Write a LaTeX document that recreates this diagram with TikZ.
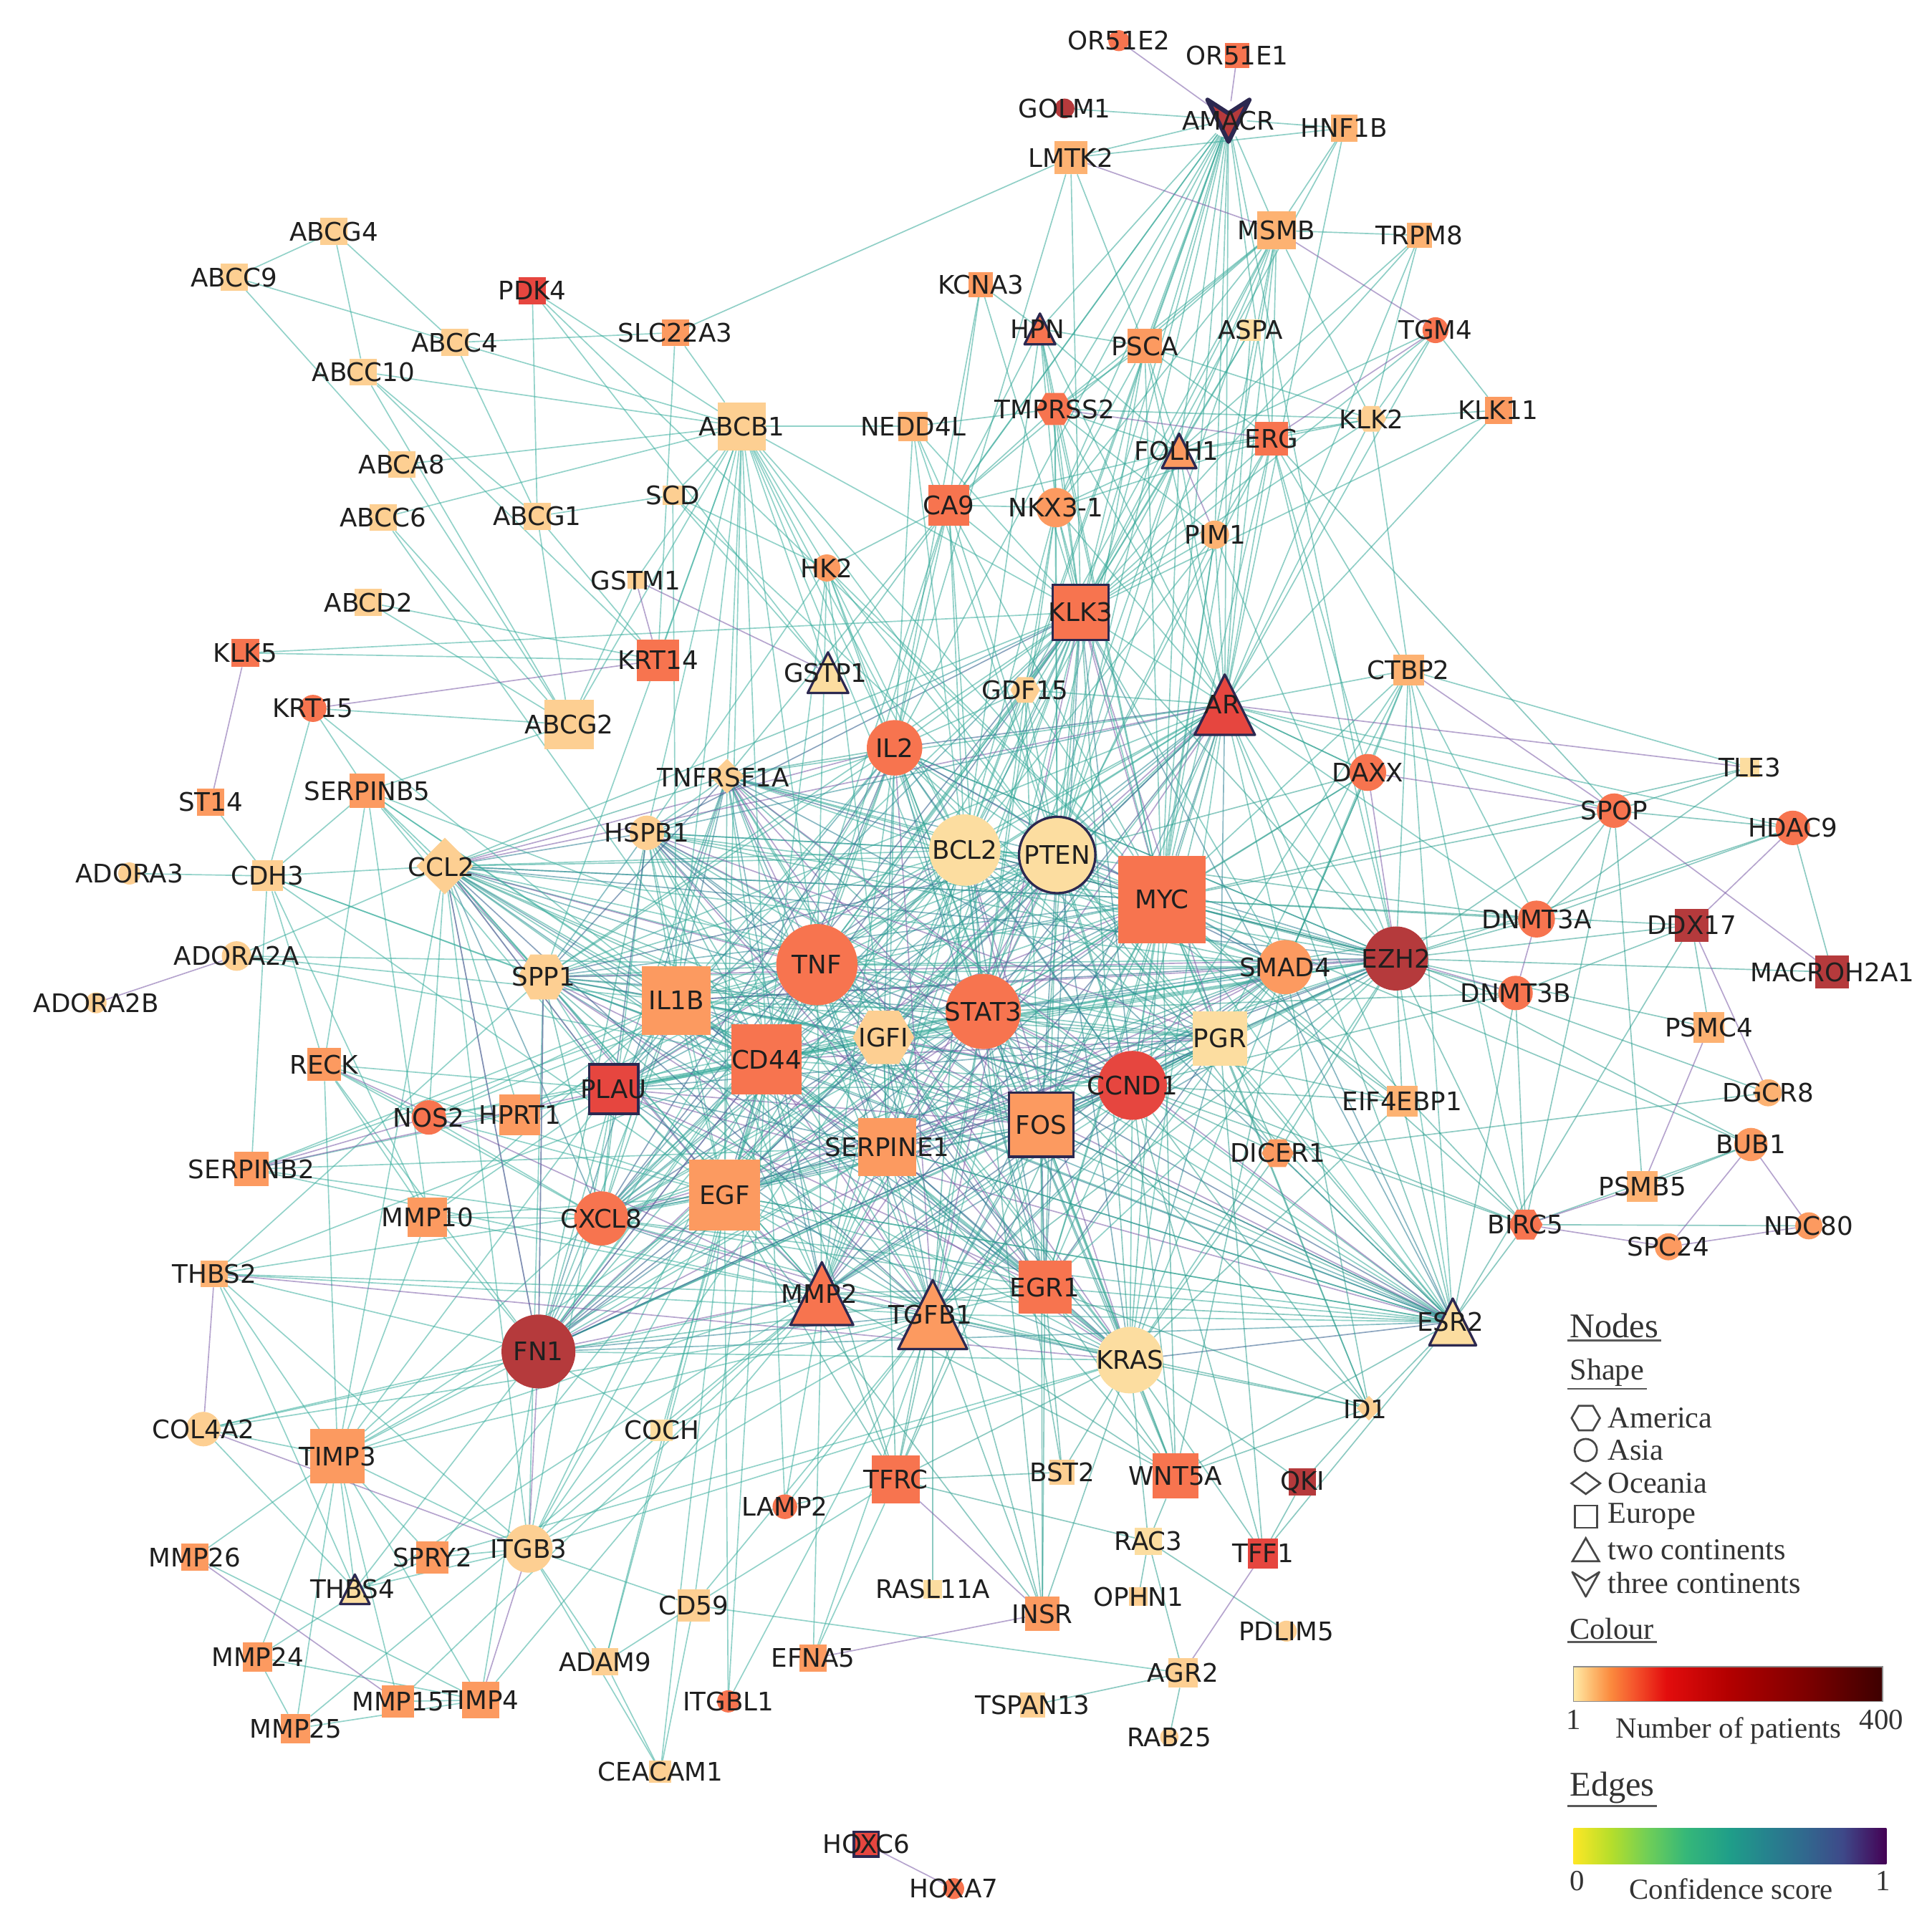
\documentclass[tikz,border=0pt]{standalone}
\usepackage{fontspec}
\usetikzlibrary{shapes.geometric, positioning}
\newfontfamily\genefont{DejaVu Sans}
\newfontfamily\legfont{Liberation Serif}

% node colours (number of patients)
\definecolor{c0}{HTML}{FCDDA0}
\definecolor{c1}{HTML}{FDCF92}
\definecolor{c2}{HTML}{FDB272}
\definecolor{c3}{HTML}{FC9A60}
\definecolor{c4}{HTML}{F7744F}
\definecolor{c5}{HTML}{E6463F}
\definecolor{c6}{HTML}{B53A3C}
\definecolor{rim}{HTML}{2C2850}
% edge colours (confidence)
\definecolor{ed0}{HTML}{34A898}
\definecolor{ed1}{HTML}{34A898}
\definecolor{ed2}{HTML}{3AAE9E}
\definecolor{ed3}{HTML}{34A898}
\definecolor{ed4}{HTML}{2FA090}
\definecolor{ed5}{HTML}{2A8C96}
\definecolor{ed6}{HTML}{2A7E92}
\definecolor{ed7}{HTML}{2D5A8A}
\definecolor{ed8}{HTML}{7A5AA6}
% colour bars
\definecolor{p0}{HTML}{FFEBA8}
\definecolor{p1}{HTML}{FDBA6E}
\definecolor{p2}{HTML}{FB8A3E}
\definecolor{p3}{HTML}{F4522B}
\definecolor{p4}{HTML}{E30D0D}
\definecolor{p5}{HTML}{B30000}
\definecolor{p6}{HTML}{800000}
\definecolor{p7}{HTML}{3D0000}
\definecolor{v0}{HTML}{FDE725}
\definecolor{v1}{HTML}{B5DE2B}
\definecolor{v2}{HTML}{6ECE58}
\definecolor{v3}{HTML}{35B779}
\definecolor{v4}{HTML}{1F9E89}
\definecolor{v5}{HTML}{26828E}
\definecolor{v6}{HTML}{31688E}
\definecolor{v7}{HTML}{3E4989}
\definecolor{v8}{HTML}{440154}

\pgfdeclarehorizontalshading{patients}{100bp}{color(0bp)=(p0); color(25bp)=(p0);
  color(28bp)=(p1); color(31bp)=(p2); color(35bp)=(p3); color(40bp)=(p4);
  color(50bp)=(p5); color(62bp)=(p6); color(75bp)=(p7); color(100bp)=(p7)}
\pgfdeclarehorizontalshading{confidence}{100bp}{color(0bp)=(v0); color(25bp)=(v0);
  color(31bp)=(v1); color(37bp)=(v2); color(43bp)=(v3); color(50bp)=(v4);
  color(56bp)=(v5); color(62bp)=(v6); color(68bp)=(v7); color(75bp)=(v8); color(100bp)=(v8)}

\pgfdeclarelayer{background}
\pgfdeclarelayer{labels}
\pgfsetlayers{background,main,labels}

\def\px{0.02cm}

% name/x/y/size/fill/outline
\def\asialist{OR51E2/908/33/17/c4/none, GOLM1/864/88/16/c6/none, TGM4/1165/268/21/c4/none,
  NKX3-1/857/412/32/c3/none, PIM1/986/434/23/c2/none, HK2/671/461/22/c3/none,
  KRT15/254/575/22/c4/none, IL2/726/607/45/c4/none, DAXX/1110/627/30/c4/none,
  HSPB1/525/676/28/c1/none, SPOP/1310/658/28/c4/none, HDAC9/1455/672/28/c4/none,
  BCL2/783/690/58/c0/none, PTEN/858/694/62/c0/rim, ADORA3/105/709/18/c1/none,
  DNMT3A/1247/746/30/c4/none, ADORA2A/192/776/24/c1/none, TNF/663/783/66/c4/none,
  SMAD4/1043/785/44/c3/none, EZH2/1133/778/52/c6/none, ADORA2B/78/814/17/c1/none,
  STAT3/798/821/61/c4/none, DNMT3B/1230/806/28/c4/none, CCND1/919/881/56/c5/none,
  NOS2/348/907/28/c4/none, DGCR8/1435/887/22/c2/none, BUB1/1421/929/27/c3/none,
  CXCL8/488/989/44/c4/none, NDC80/1468/995/22/c3/none, SPC24/1354/1012/22/c3/none,
  FN1/437/1097/60/c6/none, KRAS/917/1104/54/c0/none, COL4A2/165/1160/28/c1/none,
  LAMP2/637/1223/20/c4/none, ITGB3/429/1257/39/c1/none, PDLIM5/1044/1324/17/c1/none,
  ITGBL1/591/1381/18/c4/none, RAB25/949/1410/15/c1/none, HOXA7/774/1533/17/c4/none}
\def\europelist{OR51E1/1004/45/20/c4/none, HNF1B/1091/104/22/c2/none, LMTK2/869/128/27/c2/none,
  MSMB/1036/187/31/c2/none, TRPM8/1152/191/20/c2/none, KCNA3/796/231/20/c3/none,
  PSCA/929/281/28/c3/none, ASPA/1015/268/17/c0/none, KLK11/1216/333/22/c3/none,
  ERG/1032/356/27/c4/none, ABCG4/271/188/22/c1/none, ABCC9/190/225/22/c1/none,
  PDK4/432/236/22/c5/none, SLC22A3/548/270/22/c3/none, ABCC4/369/278/22/c1/none,
  ABCC10/295/302/22/c1/none, ABCB1/602/346/39/c1/none, NEDD4L/741/346/24/c2/none,
  ABCA8/326/377/22/c1/none, SCD/546/402/16/c1/none, CA9/770/410/33/c4/none,
  ABCC6/311/420/22/c1/none, ABCG1/436/419/22/c1/none, GSTM1/516/471/14/c1/none,
  ABCD2/299/489/22/c1/none, KLK3/877/497/45/c4/rim, KLK5/199/530/23/c4/none,
  KRT14/534/536/34/c4/none, CTBP2/1143/544/25/c2/none, ABCG2/462/588/40/c1/none,
  TLE3/1420/623/16/c0/none, ST14/171/651/22/c3/none, SERPINB5/298/642/28/c3/none,
  MYC/943/730/71/c4/none, CDH3/217/711/25/c1/none, DDX17/1373/751/27/c6/none,
  MACROH2A1/1487/789/27/c6/none, IL1B/549/812/56/c3/none, PSMC4/1387/834/25/c2/none,
  CD44/622/860/57/c4/none, PGR/990/843/44/c0/none, RECK/263/864/27/c3/none,
  PLAU/498/884/40/c5/rim, HPRT1/422/905/33/c3/none, EIF4EBP1/1138/894/25/c2/none,
  FOS/845/913/52/c3/rim, SERPINE1/720/931/47/c3/none, SERPINB2/204/949/28/c3/none,
  EGF/588/970/58/c3/none, PSMB5/1333/963/25/c2/none, MMP10/347/988/32/c3/none,
  THBS2/174/1034/22/c2/none, EGR1/848/1045/43/c4/none, COCH/537/1161/18/c0/none,
  TIMP3/274/1182/44/c3/none, BST2/862/1195/20/c1/none, WNT5A/954/1198/37/c4/none,
  QKI/1057/1203/22/c6/none, TFRC/727/1201/39/c4/none, RAC3/932/1251/22/c0/none,
  TFF1/1025/1261/24/c5/none, MMP26/158/1264/22/c3/none, SPRY2/351/1264/26/c3/none,
  CD59/563/1303/26/c1/none, RASL11A/757/1290/15/c0/none, OPHN1/924/1296/15/c1/none,
  INSR/846/1310/28/c3/none, MMP24/209/1345/24/c3/none, ADAM9/491/1349/22/c1/none,
  EFNA5/660/1346/22/c3/none, AGR2/960/1358/24/c1/none, MMP15/323/1381/26/c3/none,
  TIMP4/390/1380/30/c3/none, TSPAN13/838/1384/20/c1/none, MMP25/240/1403/24/c3/none,
  CEACAM1/536/1438/18/c1/none, HOXC6/703/1497/20/c5/rim}
\def\americalist{TMPRSS2/856/332/30/c4/none, KLK2/1113/340/24/c1/none, GDF15/832/560/24/c1/none,
  SPP1/441/793/42/c1/none, IGFI/717/842/50/c1/none, DICER1/1037/936/26/c3/none,
  BIRC5/1238/994/28/c4/none}
\def\oceanialist{CCL2/361/703/46/c1/none, TNFRSF1A/590/630/28/c1/none, ID1/1111/1143/20/c1/none}
% triangles: centre of the box, width = height
\def\twolist{HPN/844/267/25/c4/rim, FOLH1/957/366/28/c3/rim, GSTP1/672/546/33/c0/rim,
  AR/994/572/49/c5/rim, MMP2/667/1050/51/c4/rim, TGFB1/757/1067/56/c3/rim,
  ESR2/1179/1073/38/c0/rim, THBS4/288/1290/24/c0/rim}

\def\hubs{TNF,IL1B,STAT3,CD44,IGFI,BCL2,PTEN,MYC,CCND1,FOS,SERPINE1,EGF,CXCL8,PLAU,SPP1,
  MMP2,TGFB1,EGR1,KRAS,FN1,IL2,HSPB1,TNFRSF1A,SMAD4,CCL2,PGR,ESR2,EZH2,AR,KLK3}

\begin{document}
\begin{tikzpicture}[
    x=0.02cm, y=-0.02cm,
    mk/.style={inner sep=0pt, outer sep=0pt, line width=1.1pt},
    asia/.style={mk, circle},
    europe/.style={mk, rectangle},
    america/.style={mk, regular polygon, regular polygon sides=6},
    oceania/.style={mk, diamond},
    lbl/.style={inner sep=0pt, text=black!88, font={\genefont\fontsize{11.8}{13}\selectfont}},
    edge/.style={line width=0.55pt, opacity=0.55},
    legmark/.style={inner sep=0pt, draw=black!72, line width=0.9pt},
    leghead/.style={inner sep=1pt, anchor=west, text=black!80, font={\legfont\fontsize{16}{18}\selectfont}},
    legsub/.style={inner sep=1pt, anchor=west, text=black!80, font={\legfont\fontsize{14}{16}\selectfont}},
    legtxt/.style={inner sep=1pt, anchor=west, text=black!80, font={\legfont\fontsize{14}{16}\selectfont}},
    legnum/.style={inner sep=1pt, text=black!80, font={\legfont\fontsize{13.5}{15}\selectfont}},
    legline/.style={draw=black!65, line width=0.8pt},
]
\useasboundingbox (0,0) rectangle (1568,1563);

% markers
\foreach \g/\x/\y/\sz/\col/\ol in \asialist
  \node[asia, minimum size=\sz*\px, fill=\col, draw=\ol] (\g) at (\x,\y) {};
\foreach \g/\x/\y/\sz/\col/\ol in \europelist
  \node[europe, minimum size=\sz*\px, fill=\col, draw=\ol] (\g) at (\x,\y) {};
\foreach \g/\x/\y/\sz/\col/\ol in \americalist
  \node[america, minimum size=\sz*\px, fill=\col, draw=\ol] (\g) at (\x,\y) {};
\foreach \g/\x/\y/\sz/\col/\ol in \oceanialist
  \node[oceania, minimum size=\sz*\px, fill=\col, draw=\ol] (\g) at (\x,\y) {};
\foreach \g/\x/\y/\sz/\col/\ol in \twolist {
  \node[asia, minimum size=0.5*\sz*\px] (\g) at (\x,\y) {};
  \filldraw[fill=\col, draw=\ol, line width=1.1pt, line join=round]
    ({\x-\sz/2},{\y+\sz/2}) -- (\x,{\y-\sz/2}) -- ({\x+\sz/2},{\y+\sz/2}) -- cycle;
}

% three continents
\node[asia, minimum size=30*\px] (AMACR) at (997,97) {};
\filldraw[fill=c6, draw=rim, line width=2pt, line join=round]
    (980,81) -- (997,115) -- (1014,81) -- (997,92) -- cycle;

% edges
\begin{pgfonlayer}{background}
\fill[white] (0,0) rectangle (1568,1563);

% dense core
\foreach \p [count=\i] in \hubs {
  \foreach \q [count=\j] in \hubs {
    \ifnum\j>\i
      \pgfmathtruncatemacro\k{mod(\i*7+\j*11,9)}
      \draw[edge, draw=ed\k] (\p) -- (\q);
    \fi
  }
}

% prostate cluster
\foreach \p/\q in {AMACR/GOLM1, AMACR/HNF1B, AMACR/LMTK2, LMTK2/HNF1B, LMTK2/SLC22A3, AMACR/MSMB,
  HNF1B/MSMB, MSMB/TRPM8, HNF1B/AR, HNF1B/KLK3, LMTK2/KLK3, LMTK2/PSCA, LMTK2/IL2,
  AMACR/HPN, AMACR/PSCA, AMACR/TMPRSS2, AMACR/FOLH1, AMACR/ERG, AMACR/NKX3-1, AMACR/PIM1,
  AMACR/KLK3, AMACR/AR, AMACR/GDF15, AMACR/PTEN, AMACR/BCL2, AMACR/MYC, AMACR/IL2, AMACR/CA9,
  AMACR/EZH2, AMACR/STAT3, AMACR/GSTP1,
  MSMB/KLK3, MSMB/AR, MSMB/PSCA, MSMB/FOLH1, MSMB/TMPRSS2, MSMB/KLK2, MSMB/NKX3-1, MSMB/PTEN,
  MSMB/PIM1, MSMB/ERG, MSMB/GDF15, MSMB/CA9, MSMB/MYC,
  TRPM8/KLK2, TRPM8/AR, TRPM8/FOLH1, TRPM8/KLK3, KCNA3/CA9, KCNA3/KLK3, KCNA3/IL2, KCNA3/HPN,
  HPN/KLK3, HPN/AR, HPN/TMPRSS2, HPN/FOLH1, HPN/PSCA, HPN/NKX3-1, HPN/MYC, HPN/BCL2, HPN/CA9,
  PSCA/KLK3, PSCA/AR, PSCA/FOLH1, PSCA/ERG, PSCA/PTEN, PSCA/TMPRSS2, PSCA/NKX3-1, PSCA/MYC,
  PSCA/KLK2, ASPA/AR, ASPA/KLK3, ASPA/FOLH1, TGM4/KLK2, TGM4/KLK11, TGM4/AR, TGM4/KLK3, TGM4/FOLH1,
  KLK2/KLK11, KLK2/AR, KLK2/KLK3, KLK2/FOLH1, KLK2/ERG, KLK2/TMPRSS2, KLK2/CTBP2, KLK11/AR, KLK11/KLK3,
  TMPRSS2/NKX3-1, TMPRSS2/KLK3, TMPRSS2/AR, TMPRSS2/FOLH1, TMPRSS2/NEDD4L, TMPRSS2/CA9,
  TMPRSS2/PTEN, TMPRSS2/MYC, TMPRSS2/PIM1, FOLH1/ERG, FOLH1/KLK3, FOLH1/NKX3-1, FOLH1/CA9,
  FOLH1/BCL2, FOLH1/STAT3, FOLH1/MYC, FOLH1/PTEN, FOLH1/AR, ERG/AR, ERG/KLK3, ERG/NKX3-1, ERG/PIM1,
  ERG/MYC, ERG/EZH2, ERG/PTEN, ERG/DAXX, ERG/CTBP2, CA9/KLK3, CA9/IL2, CA9/BCL2, CA9/TNF, CA9/STAT3,
  CA9/MYC, CA9/HK2, CA9/NKX3-1, CA9/TNFRSF1A, CA9/CD44, CA9/CCND1, NKX3-1/KLK3, NKX3-1/AR,
  NKX3-1/PTEN, NKX3-1/MYC, NKX3-1/BCL2, NKX3-1/GDF15, NKX3-1/STAT3, PIM1/AR, PIM1/KLK3, PIM1/MYC,
  PIM1/STAT3, PIM1/BCL2, PIM1/CCND1, PIM1/EZH2, KLK3/GDF15, GDF15/AR, GDF15/BCL2, GDF15/PTEN,
  GDF15/MYC, GDF15/STAT3, GDF15/TNF, GDF15/IL2, GDF15/EGR1, CTBP2/AR, CTBP2/EZH2, CTBP2/MYC,
  CTBP2/SMAD4, CTBP2/DAXX, CTBP2/TLE3, CTBP2/ESR2, CTBP2/PGR, CTBP2/CCND1, CTBP2/DNMT3A,
  CTBP2/BIRC5, AR/DAXX, AR/SPOP, AR/DNMT3A, AR/EIF4EBP1, AR/HDAC9}
  \draw[edge, draw=ed0] (\p) -- (\q);

% transporters and left side
\foreach \p/\q in {ABCG4/ABCC9, ABCG4/ABCC10, ABCG4/ABCC4, ABCC9/ABCC4, ABCC9/ABCA8, ABCC4/SLC22A3,
  ABCC4/ABCB1, ABCC4/ABCG1, ABCC10/ABCB1, ABCC10/ABCG1, ABCC10/ABCG2, ABCC10/KRT14, PDK4/ABCG1,
  PDK4/ABCB1, PDK4/GSTP1, PDK4/MYC, SLC22A3/ABCB1, SLC22A3/KRT14, ABCB1/ABCA8, ABCB1/ABCC6,
  ABCB1/ABCG2, ABCB1/GSTP1, ABCB1/GSTM1, ABCB1/HK2, ABCB1/IL2, ABCB1/TNF, ABCB1/KRT14,
  ABCB1/TNFRSF1A, ABCB1/BCL2, ABCB1/IL1B, ABCB1/STAT3, ABCB1/CD44, ABCB1/EGF, ABCB1/HSPB1,
  ABCB1/SPP1, ABCB1/KLK3, ABCB1/NEDD4L, ABCB1/PTEN, ABCB1/MYC, ABCG1/SCD, ABCG1/ABCG2, ABCG1/KRT14,
  ABCA8/ABCG2, ABCC6/ABCG2, ABCC6/CD44, ABCD2/ABCG2, ABCD2/KRT14, SCD/GSTP1, SCD/HK2, SCD/PTEN,
  SCD/IL1B, SCD/ABCB1, GSTM1/ABCG2, HK2/IL2, HK2/MYC, HK2/BCL2, HK2/TNF, HK2/STAT3, HK2/HSPB1,
  HK2/PTEN, HK2/IGFI, HK2/CD44, NEDD4L/KLK3, NEDD4L/PTEN, NEDD4L/IL2, NEDD4L/STAT3, NEDD4L/CA9,
  KLK5/KRT14, KLK5/KLK3, KRT15/SERPINB5, KRT15/CDH3, KRT15/ABCG2, KRT15/IL1B, ST14/CDH3,
  SERPINB5/CDH3, SERPINB5/CCL2, SERPINB5/ABCG2, SERPINB5/TNF, SERPINB5/CD44, SERPINB5/SPP1,
  SERPINB5/IL1B, SERPINB5/PLAU, SERPINB5/MMP10, SERPINB5/RECK, ADORA3/CDH3, CDH3/CCL2, CDH3/RECK,
  CDH3/SERPINB2, CDH3/EGF, CDH3/CD44, CDH3/SPP1, CDH3/MMP10, ADORA2A/CCL2, ADORA2A/TNF,
  ADORA2A/IL1B, ADORA2A/CD44, CCL2/NOS2, CCL2/HPRT1, CCL2/ITGB3, CCL2/TIMP3, CCL2/MYC,
  RECK/NOS2, RECK/MMP10, RECK/TIMP3, RECK/FN1, RECK/PLAU, RECK/CXCL8, RECK/EGF, NOS2/HPRT1,
  NOS2/TNF, NOS2/IL1B, NOS2/STAT3, NOS2/CD44, NOS2/EGF, NOS2/CXCL8, HPRT1/PLAU, HPRT1/TNF,
  HPRT1/IL1B, SERPINB2/SERPINE1, SERPINB2/TNF, SERPINB2/IL1B, SERPINB2/CXCL8, SERPINB2/CD44,
  SERPINB2/MMP2, MMP10/MMP2, MMP10/TIMP3, MMP10/CXCL8, MMP10/EGF, MMP10/FN1, MMP10/PLAU, MMP10/IL1B,
  THBS2/TIMP3, THBS2/FN1, THBS2/MMP2, THBS2/TGFB1, THBS2/CD44, THBS2/ITGB3, THBS2/THBS4,
  THBS2/SPP1, THBS2/EGF, COL4A2/TIMP3, COL4A2/FN1, COL4A2/MMP2, COL4A2/THBS4, COL4A2/TGFB1,
  TIMP3/FN1, TIMP3/MMP2, TIMP3/MMP24, TIMP3/MMP25, TIMP3/MMP15, TIMP3/TIMP4, TIMP3/THBS4,
  TIMP3/SPRY2, TIMP3/ITGB3, TIMP3/EGF, TIMP3/CD44, TIMP3/TGFB1, TIMP3/IL1B, TIMP3/SERPINE1,
  TIMP3/MMP26, MMP26/TIMP4, MMP24/MMP25, MMP24/TIMP4, MMP24/MMP2, MMP25/TIMP4, MMP25/MMP2,
  MMP15/MMP2, MMP15/TIMP4, TIMP4/MMP2, TIMP4/FN1, SPRY2/EGF, SPRY2/ITGB3, SPRY2/THBS4,
  SPRY2/KRAS, THBS4/ITGB3, THBS4/FN1, ITGB3/SPP1, ITGB3/TGFB1, ITGB3/MMP2, ITGB3/EGF, ITGB3/KRAS,
  ITGB3/CD44, ITGB3/IGFI, ITGB3/PLAU, ITGB3/CD59, ITGB3/ADAM9, ITGB3/CEACAM1, COCH/FN1,
  COCH/CD44, COCH/TGFB1, ADAM9/CEACAM1, ADAM9/CD44, ADAM9/CD59, ADAM9/EGF, CD59/CEACAM1,
  CD59/TGFB1, CD59/AGR2, CD59/CD44, CD59/TFRC, CEACAM1/EGF, ITGBL1/TGFB1, ITGBL1/EGF,
  ITGBL1/CD44, EFNA5/MMP2, EFNA5/TFRC, EFNA5/TGFB1, LAMP2/TFRC, LAMP2/CD44, LAMP2/TGFB1,
  LAMP2/MMP2}
  \draw[edge, draw=ed2] (\p) -- (\q);

% lower middle and right side
\foreach \p/\q in {TFRC/MMP2, TFRC/TGFB1, TFRC/KRAS, TFRC/RAC3, TFRC/STAT3, TFRC/MYC, TFRC/EGF,
  TFRC/FOS, TFRC/CD44, TFRC/IGFI, TFRC/BST2, RASL11A/TGFB1, INSR/TGFB1, INSR/KRAS, INSR/EGR1,
  INSR/IGFI, INSR/EGF, INSR/STAT3, INSR/FOS, BST2/KRAS, BST2/EGR1, BST2/STAT3, WNT5A/KRAS,
  WNT5A/EGR1, WNT5A/TGFB1, WNT5A/MMP2, WNT5A/RAC3, WNT5A/ID1, WNT5A/CCND1, WNT5A/MYC,
  WNT5A/STAT3, WNT5A/FOS, WNT5A/SMAD4, WNT5A/ESR2, WNT5A/SERPINE1, RAC3/OPHN1, RAC3/AGR2,
  RAC3/PDLIM5, RAC3/KRAS, QKI/ID1, QKI/KRAS, QKI/TFF1, TFF1/ESR2, TFF1/KRAS, TFF1/PGR, TFF1/CCND1,
  AGR2/TSPAN13, AGR2/RAB25, ID1/ESR2, ID1/KRAS, ID1/SMAD4, ID1/MYC, ID1/TGFB1, ID1/EGR1,
  ID1/STAT3, ID1/CCND1, ID1/PGR, ESR2/FOS, ESR2/DICER1, ESR2/BIRC5, ESR2/DNMT3B, ESR2/EIF4EBP1,
  ESR2/EGF, ESR2/SERPINE1, DAXX/AR, DAXX/MYC, DAXX/STAT3, DAXX/PTEN, DAXX/SMAD4, TLE3/SPOP,
  TLE3/MYC, TLE3/DNMT3A, SPOP/ERG, SPOP/MYC, SPOP/DNMT3A, SPOP/PSMB5, SPOP/BIRC5, SPOP/EZH2,
  SPOP/HDAC9, HDAC9/MACROH2A1, HDAC9/EZH2, HDAC9/DNMT3A, DNMT3A/EZH2, DNMT3A/MYC, DNMT3A/PTEN,
  DNMT3A/STAT3, DDX17/EZH2, DDX17/DNMT3B, DDX17/MYC, DDX17/ESR2, DDX17/PSMC4, MACROH2A1/EZH2,
  DNMT3B/MYC, DNMT3B/BIRC5, DNMT3B/CCND1, DNMT3B/STAT3, PSMC4/EZH2, DGCR8/DICER1, DGCR8/EZH2,
  BUB1/BIRC5, BUB1/PSMB5, BUB1/EZH2, BUB1/MYC, BIRC5/NDC80, BIRC5/EZH2, BIRC5/MYC, BIRC5/STAT3,
  BIRC5/CCND1, BIRC5/SMAD4, EIF4EBP1/EZH2, EIF4EBP1/MYC, EIF4EBP1/PTEN, EIF4EBP1/STAT3,
  EIF4EBP1/KRAS, EIF4EBP1/CCND1, DICER1/EZH2, DICER1/MYC, DICER1/KRAS, DICER1/PTEN,
  DICER1/CCND1, EZH2/IL2, EZH2/BCL2, SMAD4/DAXX, PGR/CCND1}
  \draw[edge, draw=ed4] (\p) -- (\q);

% high confidence
\foreach \p/\q in {OR51E2/AMACR, OR51E1/AMACR, LMTK2/MSMB, KLK5/ST14, ADORA2A/ADORA2B,
  HOXC6/HOXA7, SPOP/DAXX, SPOP/MACROH2A1, TFF1/AGR2, MMP26/MMP15, THBS2/KRAS, EFNA5/INSR,
  BIRC5/PSMB5, BUB1/NDC80, SPC24/NDC80, SPC24/BUB1, BIRC5/SPC24, DGCR8/DDX17, PSMC4/PSMB5,
  TGM4/ERG, MSMB/TGM4, ERG/TMPRSS2, PIM1/FOLH1, HDAC9/DDX17, DNMT3A/DNMT3B, GSTM1/KRT14,
  GSTM1/GSTP1, FN1/ITGB3, THBS2/COL4A2, COL4A2/ITGB3, TFRC/INSR, ITGB3/TIMP4, SERPINB2/PLAU,
  NOS2/SERPINB2, RECK/MMP2, KRT15/KRT14, TLE3/AR, CTBP2/SPOP, DAXX/EZH2, EZH2/DNMT3B,
  CCL2/FN1, CCL2/PLAU, SPP1/FN1, CD44/FN1}
  \draw[edge, draw=ed8] (\p) -- (\q);
\end{pgfonlayer}

% gene labels
\begin{pgfonlayer}{labels}
\foreach \g/\x/\y/\sz/\col/\ol in \asialist \node[lbl] (\g-l) at (\x,\y) {\g};
\foreach \g/\x/\y/\sz/\col/\ol in \europelist \node[lbl] (\g-l) at (\x,\y) {\g};
\foreach \g/\x/\y/\sz/\col/\ol in \americalist \node[lbl] (\g-l) at (\x,\y) {\g};
\foreach \g/\x/\y/\sz/\col/\ol in \oceanialist \node[lbl] (\g-l) at (\x-3,\y+1) {\g};
\foreach \g/\x/\y/\sz/\col/\ol in \twolist \node[lbl] (\g-l) at (\x-2,\y) {\g};
\node[lbl] (AMACR-l) at (997,98) {AMACR};
\end{pgfonlayer}

% legend: nodes
\node[leghead] (lnodes) at (1272,1076) {Nodes};
\draw[legline] (lnodes.south west) -- (lnodes.south east);
\node[legsub] (lshape) at (1272,1114) {Shape};
\draw[legline] (lshape.south west) -- (lshape.south east);
\foreach \y/\t [count=\i] in {1151/America, 1177/Asia, 1204/Oceania, 1231/Europe,
    1258/two continents, 1285/three continents}
  \node[legtxt] (ltxt\i) at (1303,\y) {\t};
\node[legmark, regular polygon, regular polygon sides=6, minimum size=23*\px] (lmk1) at (1287,1151) {};
\node[legmark, circle, minimum size=18*\px] (lmk2) at (1287,1177) {};
\node[legmark, diamond, minimum width=24*\px, minimum height=18*\px] (lmk3) at (1287,1204) {};
\node[legmark, rectangle, minimum size=18*\px] (lmk4) at (1287,1231) {};
\node[legmark, regular polygon, regular polygon sides=3, minimum size=25*\px] (lmk5) at (1287,1261) {};
\draw[draw=black!72, line width=0.9pt, line join=round]
    (1276,1276) -- (1287,1296) -- (1298,1276) -- (1287,1283) -- cycle;

% legend: colour bar
\node[legsub] (lcol) at (1272,1322) {Colour};
\draw[legline] (lcol.south west) -- (lcol.south east);
\shade[shading=patients, draw=black!45, line width=0.5pt] (1277,1353) rectangle (1528,1381);
\node[legnum] (lone) at (1277,1396) {1};
\node[legnum] (lpat) at (1403,1405) {Number of patients};
\node[legnum] (lmax) at (1527,1396) {400};

% legend: edges
\node[leghead] (ledges) at (1272,1451) {Edges};
\draw[legline] (ledges.south west) -- (ledges.south east);
\shade[shading=confidence] (1277,1484) rectangle (1531,1513);
\node[legnum] (lzero) at (1280,1527) {0};
\node[legnum] (lconf) at (1405,1533) {Confidence score};
\node[legnum] (lunit) at (1528,1527) {1};

\end{tikzpicture}
\end{document}
